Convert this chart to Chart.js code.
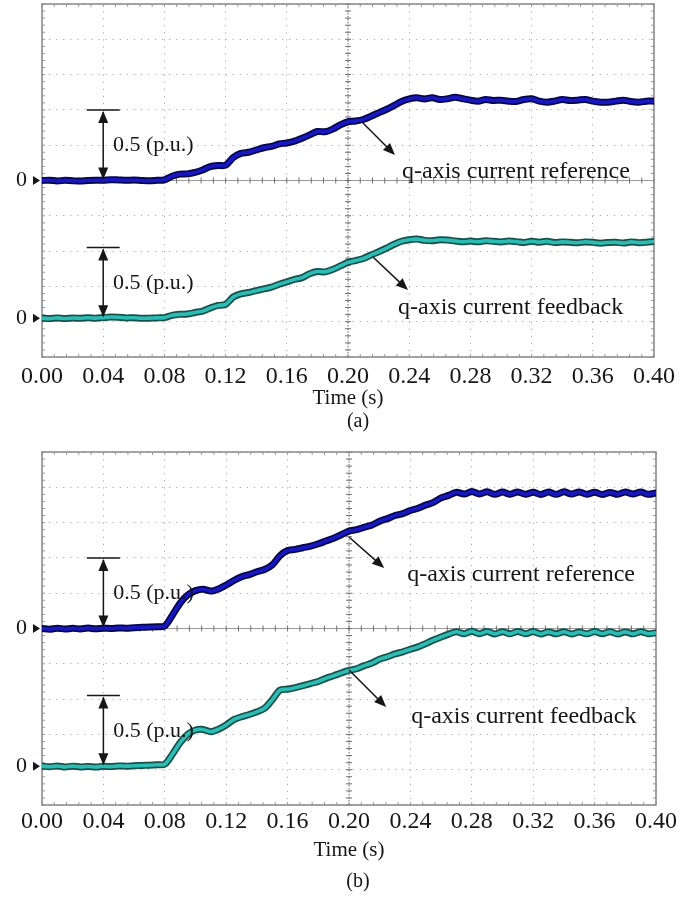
<!DOCTYPE html>
<html>
<head>
<meta charset="utf-8">
<script src="https://cdn.jsdelivr.net/npm/chart.js@4.4.1/dist/chart.umd.min.js"></script>
<style>
  html, body { margin: 0; padding: 0; background: #ffffff; }
  #wrap { position: relative; width: 697px; height: 897px; overflow: hidden; }
  .panel { position: absolute; left: 0; width: 697px; }
  #panelA { top: 0; height: 440px; }
  #panelB { top: 440px; height: 457px; }
</style>
</head>
<body>
<div id="wrap">
  <div class="panel" id="panelA"><canvas id="chartA"></canvas></div>
  <div class="panel" id="panelB"><canvas id="chartB"></canvas></div>
</div>
<script>
// ---- time base (s) and axis labels ----
const sampleTimes = [
  0.000, 0.005, 0.010, 0.015, 0.020, 0.025, 0.030, 0.035, 0.040, 0.045,
  0.050, 0.055, 0.060, 0.065, 0.070, 0.075, 0.080, 0.085, 0.090, 0.095,
  0.100, 0.105, 0.110, 0.115, 0.120, 0.125, 0.130, 0.135, 0.140, 0.145,
  0.150, 0.155, 0.160, 0.165, 0.170, 0.175, 0.180, 0.185, 0.190, 0.195,
  0.200, 0.205, 0.210, 0.215, 0.220, 0.225, 0.230, 0.235, 0.240, 0.245,
  0.250, 0.255, 0.260, 0.265, 0.270, 0.275, 0.280, 0.285, 0.290, 0.295,
  0.300, 0.305, 0.310, 0.315, 0.320, 0.325, 0.330, 0.335, 0.340, 0.345,
  0.350, 0.355, 0.360, 0.365, 0.370, 0.375, 0.380, 0.385, 0.390, 0.395,
  0.400
];
const timeTickLabels = ['0.00', '0.04', '0.08', '0.12', '0.16', '0.20', '0.24', '0.28', '0.32', '0.36', '0.40'];

// ---- (a) q-axis current, p.u. ----
const refA = [
  0.000, 0.002, -0.003, 0.001, -0.002, -0.004, 0.000, 0.002, 0.001, 0.006,
  0.004, 0.001, 0.003, 0.000, -0.002, 0.001, 0.005, 0.030, 0.045, 0.047,
  0.057, 0.075, 0.098, 0.106, 0.108, 0.163, 0.192, 0.200, 0.216, 0.232,
  0.242, 0.259, 0.266, 0.279, 0.300, 0.323, 0.347, 0.345, 0.364, 0.394,
  0.416, 0.421, 0.432, 0.455, 0.479, 0.503, 0.530, 0.560, 0.578, 0.586,
  0.578, 0.586, 0.574, 0.579, 0.590, 0.579, 0.569, 0.562, 0.574, 0.567,
  0.569, 0.562, 0.560, 0.574, 0.579, 0.562, 0.555, 0.562, 0.574, 0.567,
  0.569, 0.574, 0.562, 0.555, 0.555, 0.562, 0.569, 0.559, 0.555, 0.562,
  0.562
];
const fbA = [
  0.000, -0.003, 0.002, -0.002, 0.001, -0.001, 0.003, 0.000, 0.004, 0.008,
  0.006, 0.002, 0.003, -0.001, 0.000, 0.002, 0.004, 0.020, 0.027, 0.029,
  0.040, 0.050, 0.072, 0.090, 0.098, 0.150, 0.172, 0.182, 0.195, 0.207,
  0.220, 0.240, 0.257, 0.274, 0.287, 0.315, 0.330, 0.328, 0.345, 0.370,
  0.395, 0.408, 0.423, 0.447, 0.470, 0.495, 0.522, 0.545, 0.556, 0.560,
  0.551, 0.548, 0.555, 0.553, 0.547, 0.541, 0.546, 0.541, 0.548, 0.544,
  0.540, 0.546, 0.542, 0.536, 0.545, 0.538, 0.544, 0.536, 0.540, 0.538,
  0.534, 0.540, 0.537, 0.531, 0.536, 0.538, 0.532, 0.540, 0.535, 0.537,
  0.543
];

// ---- (b) q-axis current, p.u. ----
const refB = [
  0.000, -0.005, 0.002, -0.004, 0.001, -0.003, 0.003, -0.002, 0.002, 0.000,
  0.004, 0.002, 0.006, 0.008, 0.010, 0.012, 0.018, 0.095, 0.180, 0.238,
  0.268, 0.278, 0.265, 0.280, 0.308, 0.340, 0.366, 0.382, 0.402, 0.418,
  0.450, 0.515, 0.552, 0.560, 0.572, 0.583, 0.600, 0.620, 0.640, 0.664,
  0.690, 0.700, 0.718, 0.733, 0.760, 0.778, 0.800, 0.814, 0.836, 0.852,
  0.874, 0.893, 0.925, 0.943, 0.965, 0.952, 0.970, 0.953, 0.968, 0.950,
  0.966, 0.951, 0.967, 0.950, 0.965, 0.949, 0.966, 0.950, 0.968, 0.952,
  0.967, 0.950, 0.965, 0.949, 0.964, 0.950, 0.967, 0.952, 0.966, 0.950,
  0.960
];
const fbB = [
  0.000, -0.004, 0.001, -0.006, 0.000, -0.005, -0.002, -0.006, -0.001, -0.003,
  0.002, 0.000, 0.003, 0.005, 0.007, 0.010, 0.014, 0.085, 0.166, 0.226,
  0.256, 0.260, 0.244, 0.262, 0.292, 0.330, 0.350, 0.366, 0.385, 0.410,
  0.470, 0.538, 0.545, 0.556, 0.570, 0.585, 0.600, 0.622, 0.640, 0.660,
  0.678, 0.690, 0.712, 0.730, 0.758, 0.775, 0.795, 0.810, 0.828, 0.845,
  0.868, 0.893, 0.915, 0.935, 0.952, 0.938, 0.955, 0.938, 0.954, 0.936,
  0.952, 0.937, 0.954, 0.938, 0.953, 0.936, 0.951, 0.937, 0.952, 0.936,
  0.950, 0.937, 0.953, 0.938, 0.952, 0.936, 0.951, 0.937, 0.952, 0.938,
  0.945
];

// feedback channel is shifted down on the screen (p.u.)
const feedbackOffset = -0.975;

// ---- styling ----
const SERIF = '"Liberation Serif", "Times New Roman", serif';
const INK = '#161616';
const GRID_DOT = '#a9a9a9';
const FRAME = '#8e8e8e';
const REF_CORE = '#1818c0', REF_EDGE = '#06064a';
const FB_CORE = '#2dbcb3', FB_EDGE = '#15504c';
const VOLT_PER_DIV = 0.25, DIVS = 10;

const timeTickValues = timeTickLabels.map(Number);
const divisionLevels = Array.from({ length: DIVS + 1 }, (_, i) => -DIVS / 2 * VOLT_PER_DIV + i * VOLT_PER_DIV);

function trace(values, offset, core, edge) {
  const pts = () => sampleTimes.map((t, i) => ({ x: t, y: values[i] + offset }));
  const common = { pointRadius: 0, tension: 0.3, fill: false, borderJoinStyle: 'round', borderCapStyle: 'round' };
  return [
    Object.assign({ data: pts(), borderColor: edge, borderWidth: 7, order: 4 }, common),
    Object.assign({ data: pts(), borderColor: core, borderWidth: 3.6, order: 1 }, common)
  ];
}

// oscilloscope graticule: frame, centre cross and sub-division ticks
const graticule = {
  id: 'graticule',
  beforeDatasetsDraw(chart) {
    const { ctx, chartArea: a, scales: { x, y } } = chart;
    const subX = (x.getPixelForValue(timeTickValues[1]) - x.getPixelForValue(timeTickValues[0])) / 5;
    const subY = Math.abs(y.getPixelForValue(VOLT_PER_DIV) - y.getPixelForValue(0)) / 5;
    const cx = x.getPixelForValue(0.2), cy = y.getPixelForValue(0);
    ctx.save();
    // centre cross
    ctx.strokeStyle = '#6a6a6a';
    ctx.lineWidth = 1;
    ctx.setLineDash([1.5, 1.5]);
    ctx.beginPath();
    ctx.moveTo(cx, a.top); ctx.lineTo(cx, a.bottom);
    ctx.stroke();
    ctx.setLineDash([]);
    ctx.strokeStyle = '#9a9a9a';
    ctx.beginPath();
    ctx.moveTo(a.left, cy); ctx.lineTo(a.right, cy);
    ctx.stroke();
    ctx.strokeStyle = '#707070';
    ctx.beginPath();
    for (let py = a.top; py <= a.bottom + 0.5; py += subY) { ctx.moveTo(cx - 3, py); ctx.lineTo(cx + 3, py); }
    for (let px = a.left; px <= a.right + 0.5; px += subX) { ctx.moveTo(px, cy - 3); ctx.lineTo(px, cy + 3); }
    ctx.stroke();
    // edge ticks
    ctx.strokeStyle = '#9a9a9a';
    ctx.beginPath();
    for (let px = a.left; px <= a.right + 0.5; px += subX) {
      ctx.moveTo(px, a.top); ctx.lineTo(px, a.top + 3);
      ctx.moveTo(px, a.bottom); ctx.lineTo(px, a.bottom - 3);
    }
    for (let py = a.top; py <= a.bottom + 0.5; py += subY) {
      ctx.moveTo(a.left, py); ctx.lineTo(a.left + 3, py);
      ctx.moveTo(a.right, py); ctx.lineTo(a.right - 3, py);
    }
    ctx.stroke();
    // frame
    ctx.strokeStyle = FRAME;
    ctx.lineWidth = 1.6;
    ctx.strokeRect(a.left, a.top, a.right - a.left, a.bottom - a.top);
    ctx.restore();
  }
};

function arrowHead(ctx, x1, y1, x2, y2, len, half) {
  const ang = Math.atan2(y2 - y1, x2 - x1);
  const bx = x2 - len * Math.cos(ang), by = y2 - len * Math.sin(ang);
  ctx.beginPath();
  ctx.moveTo(x2, y2);
  ctx.lineTo(bx + half * Math.sin(ang), by - half * Math.cos(ang));
  ctx.lineTo(bx - half * Math.sin(ang), by + half * Math.cos(ang));
  ctx.closePath();
  ctx.fill();
}

// scale bars, pointers, zero markers and caption
const annotations = {
  id: 'annotations',
  afterDatasetsDraw(chart, args, opts) {
    const { ctx, chartArea: a, scales: { x, y } } = chart;
    ctx.save();
    ctx.fillStyle = INK;
    ctx.strokeStyle = INK;
    ctx.lineWidth = 1.5;

    // 0.5 p.u. scale bars
    for (const b of opts.scaleBars) {
      const px = x.getPixelForValue(b.t);
      const y0 = y.getPixelForValue(b.base), y1 = y.getPixelForValue(b.base + b.span);
      ctx.beginPath();
      ctx.moveTo(px, y0 - 2); ctx.lineTo(px, y1 + 2);
      ctx.moveTo(px - 16.5, y1); ctx.lineTo(px + 16.5, y1);
      ctx.stroke();
      arrowHead(ctx, px, y1 + 20, px, y1 + 1, 12, 5);
      arrowHead(ctx, px, y0 - 20, px, y0 - 1, 12, 5);
      ctx.font = '22px ' + SERIF;
      ctx.textAlign = 'left';
      ctx.textBaseline = 'middle';
      ctx.fillText(b.label, x.getPixelForValue(b.labelT), (y0 + y1) / 2);
    }

    // pointer arrows with trace names
    for (const p of opts.pointers) {
      const x1 = x.getPixelForValue(p.from[0]), y1 = y.getPixelForValue(p.from[1]);
      const x2 = x.getPixelForValue(p.to[0]), y2 = y.getPixelForValue(p.to[1]);
      ctx.beginPath();
      ctx.moveTo(x1, y1); ctx.lineTo(x2 - (x2 - x1) * 0.15, y2 - (y2 - y1) * 0.15);
      ctx.stroke();
      arrowHead(ctx, x1, y1, x2, y2, 12, 5);
      ctx.font = '24px ' + SERIF;
      ctx.textAlign = 'left';
      ctx.textBaseline = 'middle';
      ctx.fillText(p.text, x.getPixelForValue(p.textAt[0]), y.getPixelForValue(p.textAt[1]));
    }

    // channel zero markers
    for (const z of opts.zeroMarks) {
      const py = y.getPixelForValue(z);
      ctx.font = '22px ' + SERIF;
      ctx.textAlign = 'right';
      ctx.textBaseline = 'middle';
      ctx.fillText('0', a.left - 15, py);
      ctx.beginPath();
      ctx.moveTo(a.left - 2, py);
      ctx.lineTo(a.left - 9, py - 4.5);
      ctx.lineTo(a.left - 9, py + 4.5);
      ctx.closePath();
      ctx.fill();
    }

    // panel caption
    ctx.font = '20px ' + SERIF;
    ctx.textAlign = 'center';
    ctx.textBaseline = 'middle';
    ctx.fillText(opts.caption.text, opts.caption.x, opts.caption.y);
    ctx.restore();
  }
};

function scales(layout) {
  return {
    x: {
      type: 'linear', min: 0, max: 0.4,
      afterBuildTicks: s => { s.ticks = timeTickValues.map(v => ({ value: v })); },
      afterFit: s => { s.height = layout.axisHeight; s.paddingLeft = 0; s.paddingRight = 0; },
      ticks: {
        autoSkip: false, maxRotation: 0, padding: layout.tickPad, color: INK,
        font: { family: SERIF, size: 24 },
        callback: (v, i) => timeTickLabels[i]
      },
      grid: { color: GRID_DOT, lineWidth: 1, drawTicks: false },
      border: { display: false, dash: [1.2, 5.86] },
      title: {
        display: true, text: 'Time (s)', color: INK,
        font: { family: SERIF, size: 21 },
        padding: { top: 0, bottom: layout.titlePad }
      }
    },
    y: {
      type: 'linear', min: divisionLevels[0], max: divisionLevels[DIVS],
      afterBuildTicks: s => { s.ticks = divisionLevels.map(v => ({ value: v })); },
      afterFit: s => { s.width = 0; },
      ticks: { display: false },
      grid: { color: GRID_DOT, lineWidth: 1, drawTicks: false },
      border: { display: false, dash: [1.2, 5.86] }
    }
  };
}

function makeChart(id, refVals, fbVals, layout, ann) {
  return new Chart(document.getElementById(id), {
    type: 'line',
    data: {
      datasets: [
        ...trace(refVals, 0, REF_CORE, REF_EDGE),
        ...trace(fbVals, feedbackOffset, FB_CORE, FB_EDGE)
      ]
    },
    options: {
      responsive: true,
      maintainAspectRatio: false,
      animation: false,
      layout: { padding: layout.padding },
      scales: scales(layout),
      plugins: { legend: { display: false }, tooltip: { enabled: false }, annotations: ann }
    },
    plugins: [graticule, annotations]
  });
}

makeChart('chartA', refA, fbA,
  { padding: { left: 42, right: 43, top: 4, bottom: 0 }, axisHeight: 83, tickPad: 5, titlePad: 29 },
  {
    scaleBars: [
      { t: 0.04, base: 0, span: 0.5, label: '0.5 (p.u.)', labelT: 0.0464 },
      { t: 0.04, base: feedbackOffset, span: 0.5, label: '0.5 (p.u.)', labelT: 0.0464 }
    ],
    pointers: [
      { from: [0.2098, 0.407], to: [0.2307, 0.18], text: 'q-axis current reference', textAt: [0.2353, 0.06] },
      { from: [0.2163, -0.542], to: [0.2392, -0.776], text: 'q-axis current feedback', textAt: [0.2327, -0.903] }
    ],
    zeroMarks: [0, feedbackOffset],
    caption: { text: '(a)', x: 358, y: 422 }
  });

makeChart('chartB', refB, fbB,
  { padding: { left: 42, right: 41, top: 12, bottom: 0 }, axisHeight: 92, tickPad: 2, titlePad: 34 },
  {
    scaleBars: [
      { t: 0.04, base: 0, span: 0.5, label: '0.5 (p.u.)', labelT: 0.0464 },
      { t: 0.04, base: feedbackOffset, span: 0.5, label: '0.5 (p.u.)', labelT: 0.0464 }
    ],
    pointers: [
      { from: [0.2, 0.648], to: [0.2229, 0.428], text: 'q-axis current reference', textAt: [0.2379, 0.379] },
      { from: [0.2, -0.294], to: [0.2242, -0.556], text: 'q-axis current feedback', textAt: [0.2405, -0.627] }
    ],
    zeroMarks: [0, feedbackOffset],
    caption: { text: '(b)', x: 358, y: 442 }
  });
</script>
</body>
</html>
